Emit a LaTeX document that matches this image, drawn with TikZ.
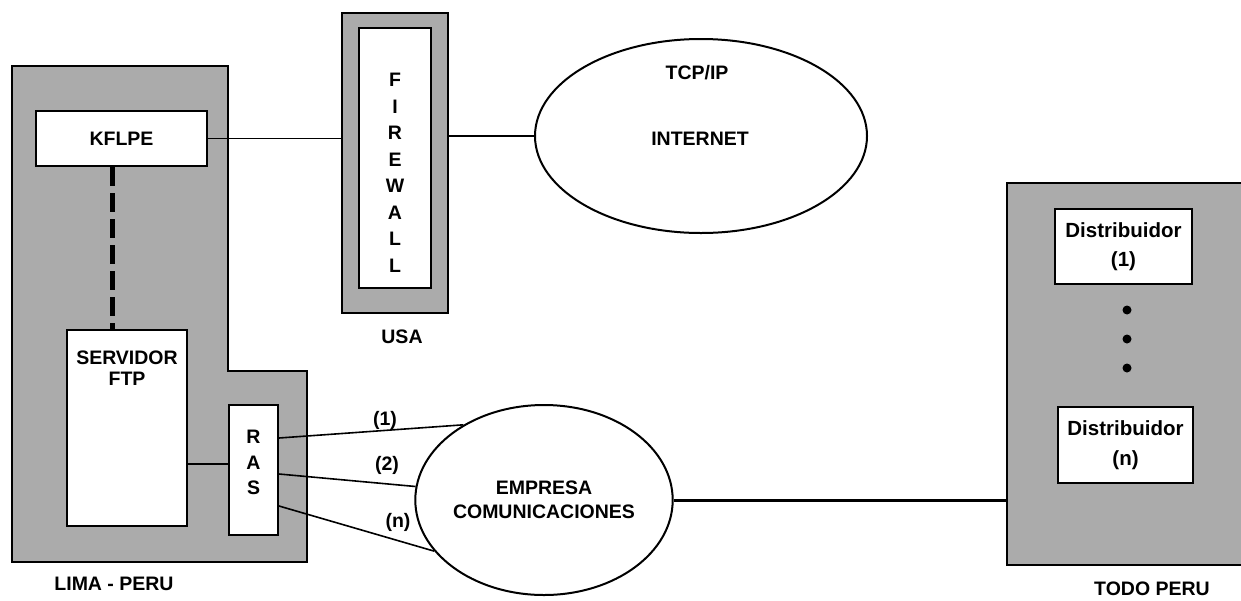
\documentclass[tikz,border=0pt]{standalone}
\usepackage{fontspec}
\setmainfont{Liberation Sans}
\usetikzlibrary{shapes.geometric,calc}

\begin{document}
\begin{tikzpicture}[x=1pt,y=-1pt,
  every node/.style={font=\fontsize{19.5}{23}\selectfont\bfseries},
  region/.style={draw=black, line width=2pt, fill=black!33},
  whitebox/.style={draw=black, line width=2pt, fill=white, inner sep=0pt, align=center},
  cloud/.style={ellipse, draw=black, line width=2pt, fill=white, inner sep=0pt, align=center},
  wire/.style={line width=1.6pt},
  trunk/.style={line width=3pt},
  dashline/.style={line width=5pt, dash pattern=on 19pt off 7pt},
  lbl/.style={inner sep=0pt, align=center},
  dotn/.style={circle, fill=black, minimum size=9pt, inner sep=0pt}]
\useasboundingbox (0,0) rectangle (1241,600);

% Lima site (L-shaped area)
\draw[region] (12,66) -- (228,66) -- (228,371) -- (307,371) -- (307,562) -- (12,562) -- cycle;
\node[lbl] (lima) at (114,584) {LIMA - PERU};

\node[whitebox, minimum width=171pt, minimum height=55pt] (kflpe) at (121.5,138.5) {KFLPE};
\node[whitebox, minimum width=120pt, minimum height=196pt] (servidor) at (127,428) {};
\node[lbl, anchor=north, font=\fontsize{19.5}{21}\selectfont\bfseries] (servtxt) at ([yshift=-22pt]servidor.north) {SERVIDOR\\FTP};
\node[whitebox, minimum width=49pt, minimum height=130pt] (ras) at (253.5,470) {};
\node[lbl, font=\fontsize{19.5}{25.5}\selectfont\bfseries] (rastxt) at (253.5,462.5) {R\\A\\S};

% Firewall in USA
\node[region, minimum width=106pt, minimum height=300pt, inner sep=0pt] (fwout) at (395,163) {};
\node[whitebox, minimum width=72pt, minimum height=260pt] (fwin) at (395,158) {};
\node[lbl, font=\fontsize{19.5}{26.5}\selectfont\bfseries] (fwtxt) at (395,172.75) {F\\I\\R\\E\\W\\A\\L\\L};
\node[lbl] (usa) at (402,337) {USA};

% Internet cloud
\node[cloud, minimum width=332pt, minimum height=194pt] (inet) at (701,136) {};
\node[lbl] (tcp) at (697,73) {TCP/IP};
\node[lbl] (inettxt) at (700,139) {INTERNET};

% Telecom carrier
\node[cloud, minimum width=242pt, minimum height=190pt, font=\fontsize{19.5}{24}\selectfont\bfseries] (emp) at (544,500) {EMPRESA\\COMUNICACIONES};

% Distributors all over Peru
\node[region, minimum width=238pt, minimum height=382pt, inner sep=0pt] (todo) at (1126,374) {};
\node[whitebox, minimum width=137pt, minimum height=75pt, font=\fontsize{20.5}{29}\selectfont\bfseries] (d1) at (1123.5,246.5) {Distribuidor\\(1)};
\node[whitebox, minimum width=135pt, minimum height=76pt, font=\fontsize{20.5}{30}\selectfont\bfseries] (dn) at (1125.5,445) {Distribuidor\\(n)};
\node[dotn] (dot1) at (1127,310) {};
\node[dotn] (dot2) at (1127,339) {};
\node[dotn] (dot3) at (1127,368) {};
\node[lbl] (todotxt) at (1152,589) {TODO PERU};

% Connections
\draw[wire] (kflpe.east) -- (kflpe.east -| fwout.west);
\draw[wire] (inet.west -| fwout.east) -- (inet.west);

\coordinate (dtop) at ($(kflpe.south)+(-9.5,0)$);
\coordinate (dbot) at (dtop |- servidor.north);
\draw[dashline] (dtop) -- (dbot);

\coordinate (sr) at ($(servidor.east)+(0,36)$);
\draw[wire] (sr) -- (sr -| ras.west);

\coordinate (r1) at ($(ras.north east)+(0,34)$);
\coordinate (r2) at ($(ras.north east)+(0,70)$);
\coordinate (r3) at ($(ras.north east)+(0,102)$);
\draw[wire] (r1) -- (emp.137.7);
\draw[wire] (r2) -- (emp.174);
\draw[wire] (r3) -- (emp.205);
\node[lbl] (l1) at (385,420) {(1)};
\node[lbl] (l2) at (387,465) {(2)};
\node[lbl] (ln) at (398,522) {(n)};

\draw[trunk] (emp.east) -- (emp.east -| todo.west);
\end{tikzpicture}
\end{document}
